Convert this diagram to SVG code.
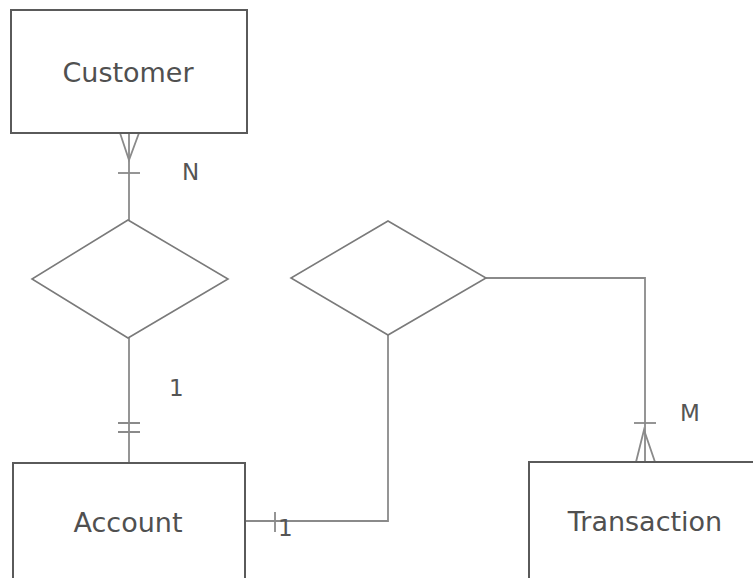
<svg xmlns="http://www.w3.org/2000/svg" width="753" height="578" viewBox="0 0 753 578">
  <style>
    .entity { fill: #ffffff; stroke: #5a5a5a; stroke-width: 2; }
    .rel { fill: #ffffff; stroke: #7a7a7a; stroke-width: 1.6; }
    .link { fill: none; stroke: #8a8a8a; stroke-width: 1.8; }
    .name { font-family: "DejaVu Sans", sans-serif; font-size: 27px; fill: #505050; text-anchor: middle; }
    .card { font-family: "DejaVu Sans", sans-serif; font-size: 23px; fill: #555555; }
  </style>
  <rect width="753" height="578" fill="#ffffff"/>

  <!-- relationship lines with cardinality marks -->
  <g id="connectors">
    <!-- Customer to first relationship -->
    <path class="link" d="M129 133 V220"/>
    <path class="link" d="M120 133 L129 160 L139 133"/>
    <path class="link" d="M118 173 H140"/>
    <!-- first relationship to Account -->
    <path class="link" d="M129 338 V463"/>
    <path class="link" d="M118 423 H140 M118 432 H140"/>
    <!-- Account to second relationship -->
    <path class="link" d="M245 521 H388 V335"/>
    <path class="link" d="M275 512 V532"/>
    <!-- second relationship to Transaction -->
    <path class="link" d="M486 278 H645 V462"/>
    <path class="link" d="M636 462 L644 430 L655 462"/>
    <path class="link" d="M634 423 H656"/>
    <text class="card" x="182" y="180">N</text>
    <text class="card" x="169" y="396">1</text>
    <text class="card" x="278" y="536">1</text>
    <text class="card" x="680" y="421">M</text>
  </g>

  <g id="customer">
    <rect class="entity" x="11" y="10" width="236" height="123"/>
    <text class="name" x="128" y="82">Customer</text>
  </g>

  <g id="relationship-1">
    <polygon class="rel" points="128,220 228,279 128,338 32,279"/>
  </g>

  <g id="relationship-2">
    <polygon class="rel" points="388,221 486,278 388,335 291,278"/>
  </g>

  <g id="account">
    <rect class="entity" x="13" y="463" width="232" height="130"/>
    <text class="name" x="128" y="532">Account</text>
  </g>

  <g id="transaction">
    <rect class="entity" x="529" y="462" width="240" height="130"/>
    <text class="name" x="645" y="531">Transaction</text>
  </g>
</svg>
